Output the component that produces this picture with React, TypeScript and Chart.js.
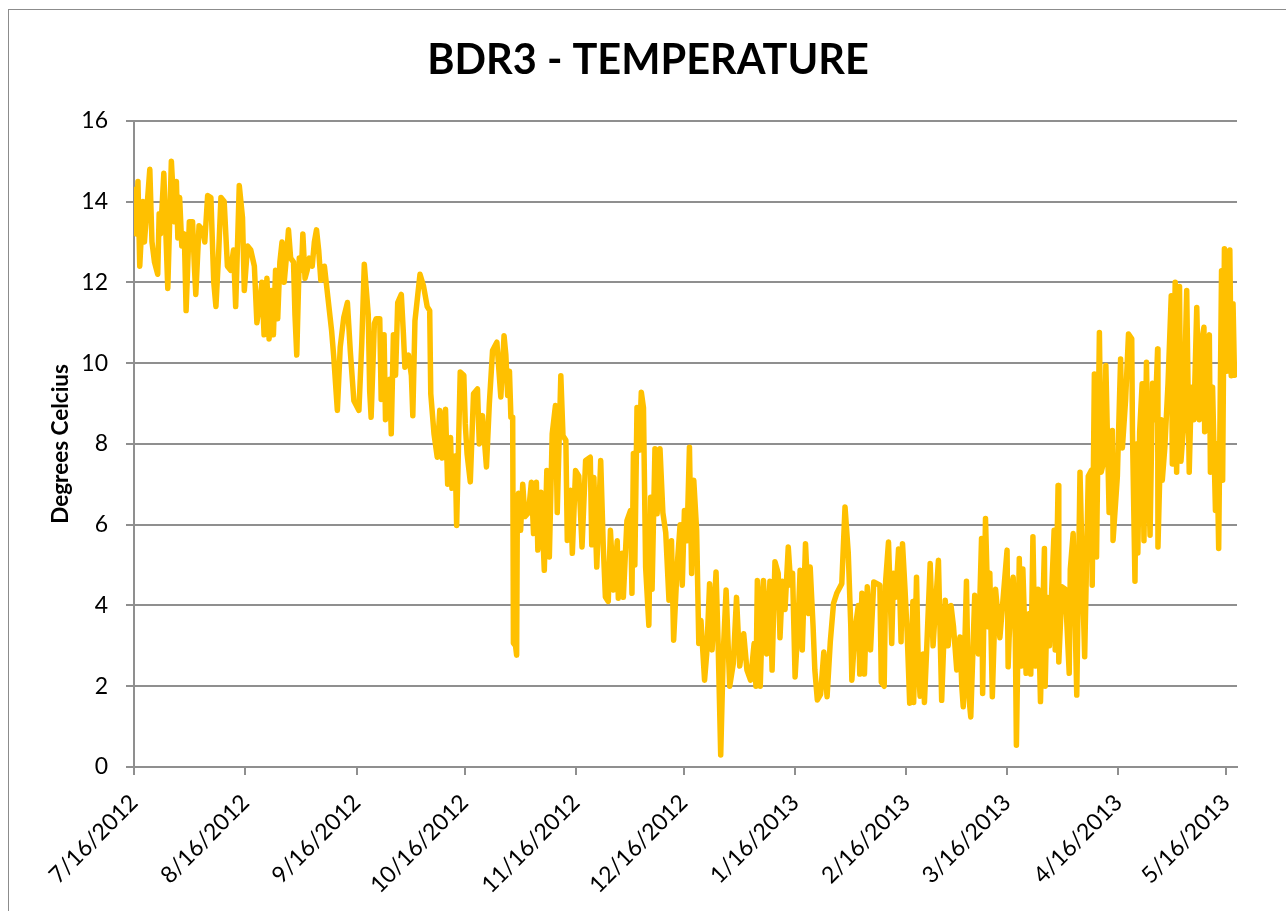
import React, { useEffect, useRef } from "react";
import { Chart, registerables } from "chart.js";

Chart.register(...registerables);

const chartTitle = "BDR3 - TEMPERATURE";
const yAxisTitle = "Degrees Celcius";

// x ticks: days since 7/16/2012
const tickDays = [0, 31, 62, 92, 123, 153, 184, 215, 243, 274, 304];
const tickLabels = [
  "7/16/2012", "8/16/2012", "9/16/2012", "10/16/2012", "11/16/2012", "12/16/2012",
  "1/16/2013", "2/16/2013", "3/16/2013", "4/16/2013", "5/16/2013",
];

// sample times (days since 7/16/2012)
const dayOffsets = [
  0.0, 0.3, 0.6, 1.1, 1.6, 2.5, 2.9, 4.4, 5.0, 5.7, 6.6, 7.0, 7.4, 8.3, 9.4, 10.4, 11.3, 11.8, 12.2, 12.7,
  13.3, 14.0, 14.5, 15.4, 16.3, 16.8, 17.2, 18.1, 19.1, 19.7, 20.5, 21.4, 22.2, 22.8, 23.5, 24.2, 25.1, 26.0, 26.9, 27.7,
  28.3, 29.3, 30.2, 30.7, 31.6, 32.5, 33.5, 34.2,
  35.0, 35.6, 36.2, 37.0, 37.6, 38.2, 38.8, 39.4, 40.0, 40.6, 41.2, 41.8, 42.4, 43.0, 43.6, 44.4, 44.8, 45.3, 46.0, 46.6,
  47.0, 47.6, 48.2, 48.8, 49.6, 50.2, 50.8, 51.4, 52.0, 53.0, 54.0, 55.0, 55.6, 56.6, 57.4, 58.4, 59.4, 60.2, 61.2, 62.6,
  63.4, 64.1, 65.2, 65.6, 66.0, 66.9, 67.4,
  68.4, 68.8, 69.6, 70.0, 71.2, 71.6, 72.2, 72.8, 73.4, 74.4, 75.0, 75.4, 76.4, 77.2, 77.6, 78.2, 79.6, 80.6, 81.6, 82.3,
  82.6, 83.5, 84.4, 85.1, 85.8, 86.7, 87.3, 88.1, 88.5, 89.4, 89.8, 90.8, 91.8, 92.2, 92.7, 93.6, 94.5, 95.6, 96.1, 97.0,
  98.1, 98.9, 99.8, 101.0, 102.1, 103.0,
  103.5, 104.0, 104.5, 104.9, 105.4, 105.6, 106.2, 106.5, 106.7, 107.0, 107.6, 108.2, 108.8, 109.8, 110.6, 111.2, 112.0, 112.4,
  113.3, 114.2, 114.9, 115.6, 116.4, 117.3, 117.8, 118.8, 119.4, 120.2, 120.6, 121.5, 122.0, 122.9, 123.8, 124.7, 125.7,
  127.0, 127.4, 128.0, 128.8, 129.9, 130.6, 131.2, 132.0, 132.6, 133.5, 134.5, 134.8, 135.8, 136.2, 137.2,
  138.2, 138.6, 139.0, 139.4, 140.0, 140.6, 141.2, 141.8, 142.4, 143.3, 143.8, 144.2, 145.0, 145.6, 146.4, 147.2, 148.0,
  148.9, 149.6, 150.2, 151.2, 152.0, 152.6, 153.2, 153.9, 154.6, 155.2, 155.8, 156.6, 157.2, 157.8, 158.8, 159.4, 160.2,
  160.9, 162.0, 162.6, 163.3, 164.0, 164.8, 165.8, 166.8, 167.7, 168.6, 169.7, 170.6, 171.6, 172.6, 173.1, 173.5,
  174.1, 174.3, 175.2, 176.1, 177.0, 177.6, 178.4, 179.3, 179.8, 180.5, 181.2, 182.1, 182.8, 183.3, 184.0, 184.8, 185.4,
  186.0, 186.9, 187.8, 188.2, 189.0, 189.5, 190.2, 191.1, 192.0, 192.9, 193.8, 194.7, 195.6, 197.0, 197.9, 198.8, 199.5,
  199.8, 200.7, 201.6, 202.0, 202.6, 203.3, 204.1, 205.0, 205.9,
  207.6, 208.0, 208.8, 209.2, 210.0, 210.9, 211.4, 212.0, 212.8, 213.5, 213.9, 214.6, 215.2, 215.9, 216.8, 217.0, 217.8,
  218.3, 218.8, 219.6, 220.0, 220.6, 221.6, 222.4, 223.9, 224.8, 225.8, 226.6, 227.4, 228.1, 229.0, 229.9, 230.4, 230.8,
  231.7, 232.2, 232.9, 234.0, 235.0, 235.9, 236.2, 237.0, 237.8, 238.2, 238.9, 239.8, 241.0,
  243.0, 243.3, 244.0, 244.7, 245.3, 245.6, 246.4, 247.0, 247.4, 248.3, 249.2, 249.6, 250.2, 250.8, 251.6, 252.3, 253.4,
  253.6, 254.2, 254.8, 256.1, 256.4, 257.2, 257.4, 258.3, 259.2, 260.3, 260.6, 261.4, 262.4, 263.3, 264.2, 264.6, 265.6,
  266.5, 266.7, 267.3, 267.9, 268.7, 269.2, 270.0, 270.5, 271.4, 272.3, 272.5, 273.7, 274.6, 275.1, 276.0, 276.8, 277.7,
  277.9, 278.6,
  279.0, 279.4, 279.9, 280.6, 281.1, 281.8, 282.2, 282.8, 283.5, 284.2, 284.9, 285.0, 285.9, 286.2, 286.9, 287.8, 288.7,
  289.0, 289.8, 290.2, 291.0, 291.4, 292.1, 293.0, 293.7, 294.3, 295.0, 295.8, 296.5, 296.9, 297.8, 298.0, 298.6, 299.3,
  299.6, 300.2, 301.0, 301.4, 301.9, 302.7, 303.0, 303.5, 304.1, 305.0, 305.4, 305.9, 306.3,
];

// temperature, degrees Celsius
const temperatures = [
  13.6, 14.3, 13.2, 14.5, 12.4, 14.0, 13.0, 14.8, 13.0, 12.5, 12.2, 13.7, 13.2, 14.7, 11.85, 15.0, 13.5, 14.5, 13.1, 14.1,
  12.9, 13.2, 11.3, 13.5, 13.5, 12.4, 11.7, 13.4, 13.3, 13.0, 14.15, 14.1, 12.0, 11.4, 12.6, 14.1, 14.0, 12.4, 12.3, 12.8,
  11.4, 14.4, 13.6, 11.8, 12.9, 12.8, 12.4, 11.0,
  11.5, 12.0, 10.7, 12.1, 10.6, 11.8, 10.7, 12.3, 11.1, 12.5, 13.0, 12.0, 12.6, 13.3, 12.6, 12.5, 11.2, 10.2, 12.6, 12.3,
  13.2, 12.1, 12.3, 12.6, 12.4, 13.0, 13.3, 12.8, 12.05, 12.4, 11.6, 10.8, 10.15, 8.83, 10.4, 11.14, 11.5, 10.3, 9.07, 8.83,
  10.5, 12.45, 11.2, 9.3, 8.66, 10.98, 11.1,
  11.1, 9.1, 10.7, 8.6, 9.6, 8.25, 10.7, 9.7, 11.5, 11.7, 10.7, 9.9, 10.2, 9.7, 8.7, 11.05, 12.2, 11.9, 11.4, 11.3,
  9.24, 8.25, 7.67, 8.83, 7.65, 8.86, 7.0, 8.16, 6.9, 7.7, 5.98, 9.78, 9.7, 8.5, 7.76, 7.06, 9.24, 9.36, 8.0, 8.7,
  7.43, 9.0, 10.31, 10.52, 9.16, 10.68,
  10.2, 9.2, 9.8, 8.66, 8.66, 3.07, 3.0, 2.77, 6.5, 6.78, 5.86, 7.0, 6.2, 6.3, 7.05, 5.78, 7.05, 5.37,
  6.8, 4.87, 7.34, 5.2, 8.25, 8.95, 6.3, 9.69, 8.2, 8.09, 5.61, 6.85, 5.29, 7.34, 7.2, 5.45, 7.59,
  7.67, 5.5, 7.17, 4.95, 7.59, 5.5, 4.21, 4.1, 5.86, 4.38, 5.6, 4.18, 5.29, 4.2, 6.1,
  6.35, 4.3, 7.76, 5.0, 8.9, 7.84, 9.28, 8.9, 4.95, 3.51, 6.68, 4.4, 7.88, 6.27, 7.88, 6.3, 5.8,
  4.13, 5.6, 3.14, 5.0, 6.0, 4.5, 6.35, 5.6, 7.92, 4.79, 7.1, 5.85, 3.06, 3.63, 2.15, 2.8, 4.54,
  2.9, 4.83, 3.0, 0.3, 2.8, 4.38, 2.0, 2.56, 4.2, 2.5, 3.3, 2.4, 2.15, 3.06, 2.0, 4.62,
  3.7, 2.0, 4.62, 2.8, 4.6, 2.4, 5.08, 4.8, 3.2, 4.6, 3.9, 5.45, 4.5, 4.8, 2.23, 3.5, 4.87,
  2.9, 5.53, 3.8, 4.95, 3.5, 2.4, 1.66, 1.8, 2.85, 1.74, 3.1, 4.05, 4.3, 4.54, 6.44, 5.3, 3.5,
  2.15, 3.4, 4.0, 2.3, 4.3, 2.3, 4.46, 2.9, 4.58,
  4.5, 2.1, 2.0, 4.6, 5.57, 3.06, 4.8, 4.2, 5.4, 3.1, 5.53, 4.4, 3.3, 1.58, 4.1, 1.6, 4.7,
  2.5, 1.75, 2.8, 1.6, 2.85, 5.04, 3.0, 5.12, 1.65, 4.13, 3.0, 4.0, 3.47, 2.4, 3.22, 2.0, 1.49,
  4.6, 1.9, 1.24, 4.25, 2.8, 5.66, 1.82, 6.15, 3.47, 4.8, 1.74, 4.4, 3.2,
  5.37, 2.48, 4.3, 4.7, 3.2, 0.54, 5.16, 2.5, 4.9, 2.32, 3.8, 2.3, 5.7, 2.5, 4.4, 1.62, 5.41,
  2.0, 4.2, 3.0, 5.86, 2.9, 6.97, 2.6, 4.46, 4.4, 2.32, 4.9, 5.78, 1.78, 7.3, 4.0, 2.73, 7.2,
  7.35, 4.5, 9.73, 5.2, 10.76, 7.3, 7.6, 9.94, 6.3, 8.33, 5.61, 7.2, 10.1, 7.9, 9.1, 10.72, 10.6,
  8.33, 4.6,
  8.0, 5.3, 8.3, 9.49, 5.6, 10.02, 7.76, 5.74, 9.5, 8.6, 10.35, 5.45, 8.6, 7.1, 7.9, 9.49, 11.67,
  7.5, 12.0, 7.3, 11.9, 7.57, 8.4, 11.8, 7.3, 9.4, 8.6, 11.38, 8.6, 10.4, 10.89, 8.3, 10.3, 10.7,
  7.3, 9.4, 6.35, 8.0, 5.41, 12.29, 7.1, 12.83, 9.8, 12.8, 9.69, 11.47, 9.7,
];

const yMin = 0;
const yMax = 16;
const yStep = 2;
const xMax = 307;

const FONT = "Lato, 'Open Sans', sans-serif";
const GRID = "#8f8f8f";

export default function App() {
  const canvasRef = useRef<HTMLCanvasElement | null>(null);

  useEffect(() => {
    const canvas = canvasRef.current;
    if (!canvas) return;
    const points = dayOffsets.map((d, i) => ({ x: d, y: temperatures[i] }));
    const chart = new Chart(canvas, {
      type: "line",
      data: {
        datasets: [
          {
            label: "Temperature",
            data: points,
            borderColor: "#FFC000",
            backgroundColor: "#FFC000",
            borderWidth: 5.5,
            pointRadius: 0,
            tension: 0,
            borderJoinStyle: "round",
            borderCapStyle: "round",
            fill: false,
          },
        ],
      },
      options: {
        responsive: false,
        animation: false,
        events: [],
        layout: { padding: { left: 50, right: 49, top: 0, bottom: 0 } },
        plugins: {
          legend: { display: false },
          tooltip: { enabled: false },
          title: {
            display: true,
            text: chartTitle,
            color: "#000",
            font: { family: FONT, size: 41.5, weight: "bold" },
            padding: { top: 26, bottom: 35 },
          },
        },
        scales: {
          x: {
            type: "linear",
            min: 0,
            max: xMax,
            afterBuildTicks: (scale: any) => {
              scale.ticks = tickDays.map((v) => ({ value: v }));
            },
            afterFit: (scale: any) => {
              scale.height = 144;
            },
            ticks: {
              autoSkip: false,
              minRotation: 45,
              maxRotation: 45,
              padding: 14,
              color: "#000",
              font: { family: FONT, size: 23 },
              callback: (_v: any, i: number) => tickLabels[i],
            },
            grid: {
              drawOnChartArea: false,
              drawTicks: true,
              tickLength: 8,
              color: GRID,
              lineWidth: 2,
            },
            border: { display: true, color: GRID, width: 2 },
          },
          y: {
            min: yMin,
            max: yMax,
            afterFit: (scale: any) => {
              scale.width = 75;
            },
            ticks: {
              stepSize: yStep,
              padding: 18,
              color: "#000",
              font: { family: FONT, size: 23 },
            },
            grid: {
              color: GRID,
              lineWidth: 2,
              tickLength: 8,
              drawTicks: true,
            },
            border: { display: true, color: GRID, width: 2 },
            title: {
              display: true,
              text: yAxisTitle,
              color: "#000",
              font: { family: FONT, size: 22.5, weight: "bold" },
              padding: { top: -12, bottom: 0 },
            },
          },
        },
      },
    });
    return () => chart.destroy();
  }, []);

  return (
    <div
      style={{
        position: "fixed",
        left: 0,
        top: 0,
        width: 1286,
        height: 911,
        overflow: "hidden",
        background: "#fff",
      }}
    >
      <div
        style={{
          position: "absolute",
          left: 8,
          top: 9,
          width: 1300,
          height: 930,
          border: "1px solid #8c8c8c",
          background: "#fff",
        }}
      >
        <canvas
          ref={canvasRef}
          width={1277}
          height={901}
          style={{ display: "block", width: 1277, height: 901 }}
        />
      </div>
    </div>
  );
}
